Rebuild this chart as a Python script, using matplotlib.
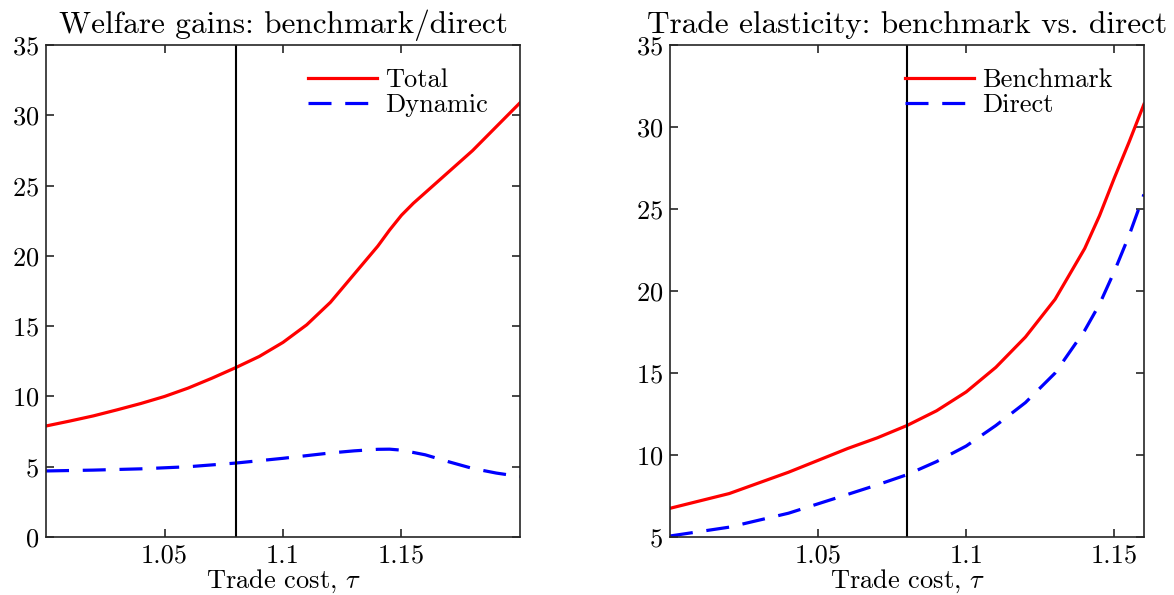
import numpy as np
import matplotlib
matplotlib.use("Agg")
import matplotlib.pyplot as plt

plt.rcParams['font.family'] = ['cmr10', 'DejaVu Serif']
plt.rcParams['mathtext.fontset'] = 'cm'
plt.rcParams['axes.formatter.use_mathtext'] = True

# left panel: welfare gains
tau_w = [1.0, 1.01, 1.02, 1.03, 1.04, 1.05, 1.06, 1.07, 1.08, 1.09, 1.10,
         1.11, 1.12, 1.13, 1.14, 1.145, 1.15, 1.155, 1.16, 1.17, 1.18, 1.19,
         1.2]
total = [7.9, 8.25, 8.62, 9.05, 9.5, 10.0, 10.6, 11.3, 12.05, 12.85, 13.85,
         15.1, 16.7, 18.7, 20.7, 21.85, 22.9, 23.75, 24.5, 26.0, 27.5, 29.2,
         30.9]
tau_d = [1.0, 1.02, 1.04, 1.06, 1.08, 1.10, 1.12, 1.13, 1.14, 1.145, 1.15,
         1.16, 1.17, 1.18, 1.19, 1.2]
dynamic = [4.7, 4.76, 4.85, 5.0, 5.26, 5.6, 5.98, 6.13, 6.24, 6.25, 6.18,
           5.85, 5.35, 4.88, 4.55, 4.3]

# right panel: trade elasticity
tau_e = [1.0, 1.02, 1.04, 1.06, 1.07, 1.08, 1.09, 1.10, 1.11, 1.12, 1.13,
         1.14, 1.145, 1.15, 1.155, 1.16]
benchmark = [6.75, 7.65, 8.95, 10.4, 11.05, 11.8, 12.7, 13.85, 15.35, 17.2,
             19.5, 22.6, 24.6, 26.9, 29.1, 31.4]
direct = [5.06, 5.6, 6.45, 7.6, 8.18, 8.8, 9.6, 10.55, 11.8, 13.2, 15.0,
          17.6, 19.2, 21.2, 23.4, 25.9]

tau_ref = 1.08
xticks = [1.05, 1.1, 1.15]
xticklabels = ['1.05', '1.1', '1.15']

fig = plt.figure(figsize=(11.74, 5.95), dpi=100)
ax1 = fig.add_axes([0.0392, 0.0975, 0.4037, 0.8265])
ax2 = fig.add_axes([0.5707, 0.0975, 0.4037, 0.8265])

lw = 2.3
dash = (0, (7.2, 4.3))
fs = 19

ax1.plot(tau_w, total, color='red', lw=lw, label='Total')
ax1.plot(tau_d, dynamic, color='blue', lw=lw, linestyle=dash, label='Dynamic')
ax1.axvline(tau_ref, color='black', lw=1.5)
ax1.set_xlim(1.0, 1.2)
ax1.set_ylim(0, 35)
ax1.set_yticks(np.arange(0, 36, 5))
ax1.set_title('Welfare gains: benchmark/direct', fontsize=22.5, pad=8.5)
ax1.legend(loc='upper left', bbox_to_anchor=(0.553, 0.953), frameon=False,
           fontsize=fs, handlelength=2.6, handletextpad=0.3, borderpad=0,
           borderaxespad=0, labelspacing=0.05)

ax2.plot(tau_e, benchmark, color='red', lw=lw, label='Benchmark')
ax2.plot(tau_e, direct, color='blue', lw=lw, linestyle=dash, label='Direct')
ax2.axvline(tau_ref, color='black', lw=1.5)
ax2.set_xlim(1.0, 1.16)
ax2.set_ylim(5, 35)
ax2.set_yticks(np.arange(5, 36, 5))
ax2.set_title('Trade elasticity: benchmark vs. direct', fontsize=22.5, pad=9)
ax2.legend(loc='upper left', bbox_to_anchor=(0.496, 0.953), frameon=False,
           fontsize=fs, handlelength=2.6, handletextpad=0.3, borderpad=0,
           borderaxespad=0, labelspacing=0.05)

for ax in (ax1, ax2):
    ax.set_xticks(xticks)
    ax.set_xticklabels(xticklabels)
    ax.set_xlabel(r'Trade cost, $\tau$', fontsize=19, labelpad=0)
    ax.tick_params(direction='in', top=True, right=True, length=6, width=1.2,
                   labelsize=fs, colors='#262626', labelcolor='black', pad=5)
    for s in ax.spines.values():
        s.set_color('#262626')
        s.set_linewidth(1.2)

fig.savefig('out.png', dpi=100)
